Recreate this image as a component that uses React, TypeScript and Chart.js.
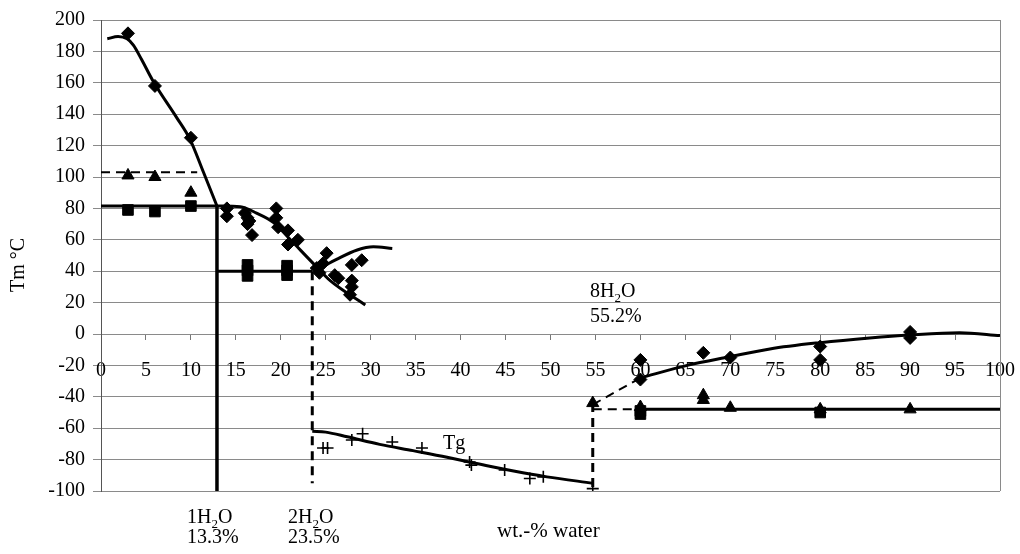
import React, { useEffect, useRef } from "react";
import { Chart, registerables } from "chart.js";
Chart.register(...registerables);

type P = [number, number];

// ---- axis settings ----
const xMin = 0, xMax = 100, xStep = 5;
const yMin = -100, yMax = 200, yStep = 20;

// ---- measured points ----
const diamondPts: P[] = [
  [3, 191.5], [6, 158], [10, 125],
  [14, 80], [14, 75],
  [16, 77], [16.3, 74], [16.5, 72], [16.3, 70], [16.8, 63],
  [19.5, 80], [19.5, 74], [19.7, 68],
  [20.8, 66], [20.8, 57], [21.9, 60],
  [24, 42], [24.7, 45], [25.1, 51.5], [24.3, 39],
  [26, 37.5], [26.4, 35.5], [27.9, 44], [29, 47], [27.9, 34], [27.9, 30], [27.7, 25],
  [60, -16.5], [60, -29], [67, -12], [70, -15], [80, -8], [80, -16.5], [90, 1.3], [90, -2.5],
];
const squarePts: P[] = [
  [3, 79], [6, 78], [10, 81.5],
  [16.3, 37], [16.3, 40.5], [16.3, 44], [20.7, 37.5], [20.7, 40.5], [20.7, 43.5],
  [60, -49], [60, -51], [80, -50],
];
const trianglePts: P[] = [
  [3, 101], [6, 100], [10, 90],
  [54.7, -44], [60, -46.5], [67, -39], [67, -42], [70, -47], [80, -48], [90, -48],
];
const tgPts: P[] = [
  [24.7, -72.6], [25.2, -72.6], [27.9, -67.5], [29.1, -63.5], [32.4, -68.8], [35.7, -72.6],
  [41, -81.5], [41.2, -83.5], [44.9, -86.6], [47.7, -92], [49.2, -91], [54.7, -98.5],
];

// ---- fitted curves ----
const curveHigh: P[] = [[0.7, 188], [1.9, 189.5], [2.9, 188], [3.6, 184], [4.5, 175], [5.8, 161], [8.4, 138], [9.9, 124], [11.4, 103], [12.9, 81.5]];
const curveMid: P[] = [[12.9, 81.5], [15.5, 81], [17.3, 77], [19.2, 71], [21, 60.5], [23.6, 45], [25.5, 34], [29.4, 18.5]];
const curveHump: P[] = [[24.4, 42], [26.2, 47.5], [28.5, 53.5], [30.3, 55.5], [32.4, 54.5]];
const curveRight: P[] = [[60, -28], [65.2, -20], [69.9, -14.5], [74.4, -9.5], [80, -5.5], [85.5, -2.5], [90, -0.6], [95.5, 0.8], [100, -1]];
const curveTg: P[] = [[23.5, -62], [25, -62.5], [27.4, -65.5], [31, -70.3], [34.7, -74.3], [38.5, -78.5], [42.2, -83], [45.9, -87.3], [49.6, -91], [54.7, -95]];

// ---- straight segments ----
const solid81: P[] = [[0, 81.5], [12.9, 81.5]];
const solidV13: P[] = [[12.9, 81.5], [12.9, -100]];
const solid40: P[] = [[12.9, 40], [23.5, 40]];
const solidM48: P[] = [[60, -48], [100, -48]];
const dash103: P[] = [[0, 103], [10.7, 103]];
const dashV23: P[] = [[23.5, 40], [23.5, -95]];
const dashV55: P[] = [[54.7, -44], [54.7, -100]];
const dashSlope: P[] = [[54.7, -45], [60, -28]];
const dashM48: P[] = [[54.7, -48], [60, -48]];

const toPts = (a: P[]) => a.map(([x, y]) => ({ x, y }));

const curve = (a: P[]) => ({
  data: toPts(a), showLine: true, pointRadius: 0, borderColor: "#000", borderWidth: 3,
  cubicInterpolationMode: "monotone" as const, fill: false,
});
const seg = (a: P[], dashed = false, w = 3) => ({
  data: toPts(a), showLine: true, pointRadius: 0, borderColor: "#000", borderWidth: w,
  borderDash: dashed ? [9, 6] : [], tension: 0, fill: false,
});
const marks = (a: P[], style: string, r: number, bw = 1) => ({
  data: toPts(a), showLine: false, pointStyle: style, pointRadius: r,
  pointBackgroundColor: "#000", pointBorderColor: "#000", pointBorderWidth: bw,
});

const FONT = '"Liberation Serif", "DejaVu Serif", serif';

function drawChem(ctx: CanvasRenderingContext2D, pre: string, sub: string, post: string, x: number, y: number) {
  ctx.font = `20px ${FONT}`;
  ctx.fillText(pre, x, y);
  let cx = x + ctx.measureText(pre).width;
  ctx.font = `13px ${FONT}`;
  ctx.fillText(sub, cx, y + 5);
  cx += ctx.measureText(sub).width;
  ctx.font = `20px ${FONT}`;
  ctx.fillText(post, cx, y);
}

const annotations = {
  id: "annotations",
  beforeDatasetsDraw(chart: any) {
    const { ctx, chartArea } = chart;
    ctx.save();
    ctx.strokeStyle = "#8a8a8a";
    ctx.lineWidth = 1;
    ctx.beginPath();
    ctx.moveTo(chartArea.right + 0.5, chartArea.top);
    ctx.lineTo(chartArea.right + 0.5, chartArea.bottom);
    ctx.stroke();
    ctx.restore();
  },
  afterDraw(chart: any) {
    const { ctx } = chart;
    ctx.save();
    ctx.fillStyle = "#000";
    ctx.textAlign = "left";
    ctx.textBaseline = "alphabetic";
    drawChem(ctx, "1H", "2", "O", 187, 523);
    ctx.font = `20px ${FONT}`;
    ctx.fillText("13.3%", 187, 543);
    drawChem(ctx, "2H", "2", "O", 288, 523);
    ctx.font = `20px ${FONT}`;
    ctx.fillText("23.5%", 288, 543);
    drawChem(ctx, "8H", "2", "O", 590, 297);
    ctx.font = `20px ${FONT}`;
    ctx.fillText("55.2%", 590, 322);
    ctx.font = `21px ${FONT}`;
    ctx.fillText("wt.-% water", 497, 537);
    ctx.font = `20px ${FONT}`;
    ctx.fillText("Tg", 443, 449);
    ctx.translate(19, 265);
    ctx.rotate(-Math.PI / 2);
    ctx.textAlign = "center";
    ctx.textBaseline = "middle";
    ctx.font = `20px ${FONT}`;
    ctx.fillText("Tm °C", 0, 0);
    ctx.restore();
  },
};

export default function App() {
  const ref = useRef<HTMLCanvasElement>(null);
  useEffect(() => {
    const chart = new Chart(ref.current!, {
      type: "line",
      data: {
        datasets: [
          curve(curveHigh), curve(curveMid), curve(curveHump), curve(curveRight), curve(curveTg),
          seg(solid81), seg(solidV13, false, 3.5), seg(solid40), seg(solidM48),
          seg(dash103, true, 2), seg(dashV23, true), seg(dashV55, true), seg(dashSlope, true, 2), seg(dashM48, true, 2),
          marks(diamondPts, "rectRot", 6.5),
          marks(squarePts, "rect", 7.5),
          marks(trianglePts, "triangle", 7),
          marks(tgPts, "cross", 6, 1.6),
        ] as any,
      },
      options: {
        animation: false,
        responsive: true,
        maintainAspectRatio: false,
        layout: { padding: { top: 20, right: 20, bottom: 63, left: 0 } },
        plugins: { legend: { display: false }, tooltip: { enabled: false } },
        scales: {
          x: {
            type: "linear",
            position: { y: 0 } as any,
            min: xMin, max: xMax,
            afterFit: (s: any) => { s.paddingLeft = 0; s.paddingRight = 0; },
            ticks: { stepSize: xStep, color: "#000", font: { family: FONT, size: 20 }, padding: 20, maxRotation: 0, autoSkip: false },
            grid: { drawOnChartArea: false, drawTicks: true, tickLength: 5, color: "#777" },
            border: { display: true, color: "#8a8a8a" },
          },
          y: {
            type: "linear",
            min: yMin, max: yMax,
            afterFit: (s: any) => { s.width = 101; },
            ticks: { stepSize: yStep, color: "#000", font: { family: FONT, size: 20 }, padding: 8 },
            grid: { color: "#8a8a8a", tickLength: 8 },
            border: { display: true, color: "#555" },
          },
        },
      },
      plugins: [annotations],
    });
    return () => chart.destroy();
  }, []);
  return (
    <div style={{ position: "fixed", left: 0, top: 0, width: 1020, height: 554, background: "#fff" }}>
      <canvas ref={ref} />
    </div>
  );
}
